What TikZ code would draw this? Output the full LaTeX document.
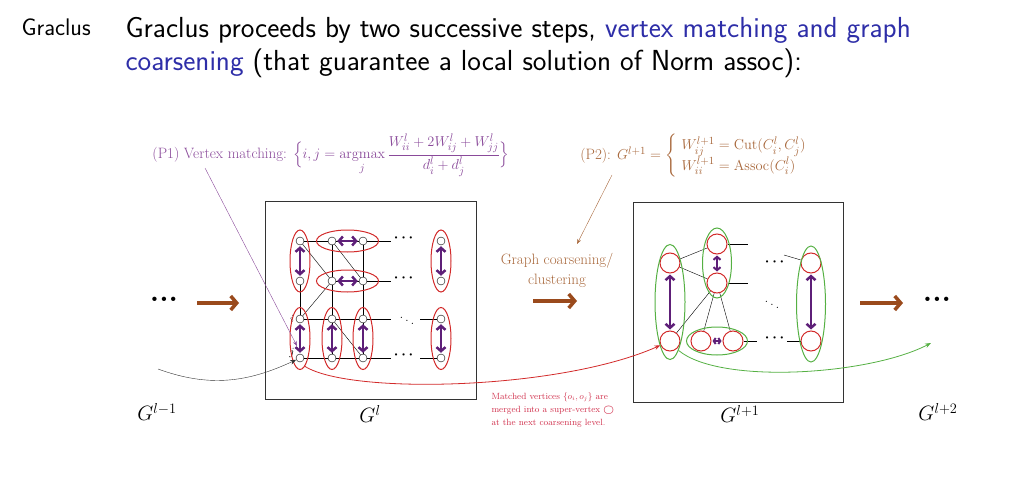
\documentclass[tikz,border=0pt]{standalone}
\usepackage{amsmath}
\usetikzlibrary{arrows.meta, shapes.geometric}
\definecolor{titleblue}{HTML}{2E2EA8}
\definecolor{matchpurple}{HTML}{5E1F78}
\definecolor{labelpurple}{HTML}{8A4A9A}
\definecolor{coarsebrown}{HTML}{9A4A1C}
\definecolor{labelbrown}{HTML}{A8683C}
\definecolor{grpred}{HTML}{D22A2A}
\definecolor{notered}{HTML}{D0304C}
\definecolor{grpgreen}{HTML}{55B043}

\begin{document}
\begin{tikzpicture}[x=1pt, y=1pt, font=\fontsize{15}{18}\selectfont, every node/.style={align=center},
  vtx/.style={circle, draw, inner sep=0pt, minimum size=8pt, fill=white},
  super/.style={circle, draw=grpred, line width=1pt, inner sep=0pt, minimum size=20pt, fill=white},
  grp/.style={ellipse, draw=grpred, line width=1pt, inner sep=0pt},
  ggrp/.style={ellipse, draw=grpgreen, line width=1pt, inner sep=0pt},
  match/.style={{Straight Barb[length=4pt, width=9pt]}-{Straight Barb[length=4pt, width=9pt]}, line width=2.5pt, matchpurple, shorten <=1pt, shorten >=1pt},
  flow/.style={-{Straight Barb[length=6pt, width=14pt]}, line width=3.5pt, coarsebrown},
  bigdots/.style={font=\fontsize{30}{30}\selectfont\bfseries},
  gdots/.style={font=\fontsize{15}{15}\selectfont\boldmath},
  glabel/.style={font=\fontsize{20}{22}\selectfont},
  headline/.style={anchor=base west, font=\sffamily\fontsize{29}{33}\selectfont}]
  \useasboundingbox (0,0) rectangle (1029,-487);

  % --- Title ---
  \node[anchor=base west, font=\sffamily\fontsize{24}{28}\selectfont] (tag) at (18,-36) {Graclus};
  \node[headline] (title1) at (122,-38)
    {Graclus proceeds by two successive steps, \textcolor{titleblue}{vertex matching and graph}};
  \node[headline] (title2) at (122,-71)
    {\textcolor{titleblue}{coarsening} (that guarantee a local solution of Norm assoc):};

  % --- Problem labels ---
  \node[labelpurple] (p1) at (331,-155)
    {(P1) Vertex matching: $\displaystyle\Big\{ i,j = \operatorname*{argmax}_j \frac{W^l_{ii}+2W^l_{ij}+W^l_{jj}}{d^l_i+d^l_j}\Big\}$};
  \node[labelbrown] (p2) at (696,-156)
    {(P2): $G^{l+1} = \left\{ \begin{array}{l} W^{l+1}_{ij} = \mathrm{Cut}(C^l_i,C^l_j)\\[1pt] W^{l+1}_{ii} = \mathrm{Assoc}(C^l_i)\end{array}\right.$};
  \coordinate (p1foot) at (205,-168);
  \coordinate (p1tip) at (297,-346);
  \coordinate (p2foot) at (612,-175);
  \coordinate (p2tip) at (577,-244);

  % --- Graph G^l ---
  \node[draw, black!80, minimum width=211pt, minimum height=198pt, inner sep=0pt] (box1) at (370.5,-300) {};
  \foreach \r/\y in {1/241,2/281,3/319,4/358}
    \foreach \c/\x in {1/300,2/332,3/363,4/441}
      \node[vtx] (a\r\c) at (\x,-\y) {};
  \node[gdots] (d1) at (405,-238) {$\cdots$};
  \node[gdots] (d2) at (405,-278) {$\cdots$};
  \node[gdots] (d3) at (407,-318) {$\ddots$};
  \node[gdots] (d4) at (405,-355) {$\cdots$};
  \coordinate (e1) at (391,-241);
  \coordinate (e2) at (391,-281);
  \coordinate (e3) at (391,-319);
  \coordinate (e3b) at (420,-319);
  \coordinate (e4) at (391,-358);
  \coordinate (e4b) at (420,-358);
  \node[font=\fontsize{11}{11}\selectfont\itshape] (li) at (292,-319) {$i$};
  \node[font=\fontsize{11}{11}\selectfont\itshape] (lj) at (292,-353) {$j$};

  \draw (a11) -- (a12) -- (a13) -- (e1);
  \draw (a22) -- (a23) -- (e2);
  \draw (a31) -- (a32) -- (a33) -- (e3);
  \draw (e3b) -- (a34);
  \draw (a41) -- (a42) -- (a43) -- (e4);
  \draw (e4b) -- (a44);
  \draw (a12) -- (a22) -- (a32) -- (a42);
  \draw (a13) -- (a23) -- (a33) -- (a43);
  \draw (a21) -- (a31);
  \draw (a11) -- (a22);
  \draw (a12) -- (a23);
  \draw (a31) -- (a22);
  \draw (a32) -- (a43);

  \node[grp, minimum width=20pt, minimum height=62pt] (g1) at (300,-261) {};
  \node[grp, minimum width=20pt, minimum height=62pt] (g2) at (300,-338.5) {};
  \node[grp, minimum width=20pt, minimum height=62pt] (g3) at (332,-338.5) {};
  \node[grp, minimum width=20pt, minimum height=62pt] (g4) at (363,-338.5) {};
  \node[grp, minimum width=20pt, minimum height=62pt] (g5) at (441,-261) {};
  \node[grp, minimum width=20pt, minimum height=62pt] (g6) at (441,-338.5) {};
  \node[grp, minimum width=62pt, minimum height=22pt] (g7) at (347.5,-241) {};
  \node[grp, minimum width=62pt, minimum height=22pt] (g8) at (347.5,-281) {};

  \draw[match] (a11) -- (a21);
  \draw[match] (a31) -- (a41);
  \draw[match] (a32) -- (a42);
  \draw[match] (a33) -- (a43);
  \draw[match] (a14) -- (a24);
  \draw[match] (a34) -- (a44);
  \draw[match] (a12) -- (a13);
  \draw[match] (a22) -- (a23);

  % --- Graph G^{l+1} ---
  \node[draw, black!80, minimum width=210pt, minimum height=200pt, inner sep=0pt] (box2) at (738,-302) {};
  \node[super] (sA) at (670,-263) {};
  \node[super] (sB) at (717,-244) {};
  \node[super] (sC) at (717,-283) {};
  \node[super] (sD) at (670,-341) {};
  \node[super] (sE) at (701,-341) {};
  \node[super] (sF) at (733,-341) {};
  \node[super] (sG) at (811,-263) {};
  \node[super] (sH) at (811,-341) {};
  \node[gdots] (s1) at (776,-262) {$\cdots$};
  \node[gdots] (s2) at (772,-302) {$\ddots$};
  \node[gdots] (s3) at (776,-338) {$\cdots$};
  \coordinate (t1) at (748,-244);
  \coordinate (t2) at (748,-283);
  \coordinate (t3) at (757,-341);
  \coordinate (t3b) at (787,-341);
  \coordinate (t4) at (784,-255);

  \draw (sA) -- (sB);
  \draw (sA) -- (sC);
  \draw (sB) -- (t1);
  \draw (sC) -- (t2);
  \draw (sC) -- (sD);
  \draw (sC) -- (sE);
  \draw (sC) -- (sF);
  \draw (sF) -- (t3);
  \draw (t3b) -- (sH);
  \draw (t4) -- (sG);

  \node[ggrp, minimum width=30pt, minimum height=115pt] (h1) at (670,-302) {};
  \node[ggrp, minimum width=29pt, minimum height=70pt] (h2) at (717,-263) {};
  \node[ggrp, minimum width=61pt, minimum height=28pt] (h3) at (717,-341) {};
  \node[ggrp, minimum width=29pt, minimum height=116pt] (h4) at (811,-304) {};

  \draw[match] (sA) -- (sD);
  \draw[match, {Straight Barb[length=3pt, width=7pt]}-{Straight Barb[length=3pt, width=7pt]}, line width=2pt] (sB) -- (sC);
  \draw[match, {Straight Barb[length=2pt, width=6pt]}-{Straight Barb[length=2pt, width=6pt]}, line width=2pt] (sE) -- (sF);
  \draw[match] (sG) -- (sH);

  % --- Coarsening flow ---
  \node[bigdots] (left) at (164,-299) {...};
  \node[bigdots] (right) at (937,-299) {...};
  \coordinate (fl0) at (197,-303);
  \coordinate (fl1) at (239,-303);
  \coordinate (fr0) at (860,-303);
  \coordinate (fr1) at (903,-303);
  \node[labelbrown, font=\fontsize{15}{20}\selectfont] (coarse) at (557,-270) {Graph coarsening/\\clustering};
  \coordinate (fm0) at (533,-301);
  \coordinate (fm1) at (577,-301);
  \draw[flow] (fl0) -- (fl1);
  \draw[flow] (fm0) -- (fm1);
  \draw[flow] (fr0) -- (fr1);

  \draw[labelpurple, -{Stealth[length=5pt]}] (p1foot) -- (p1tip);
  \draw[labelbrown, -{Stealth[length=5pt]}] (p2foot) -- (p2tip);

  % --- Level links ---
  \coordinate (prev) at (158,-369);
  \coordinate (next) at (931,-343);
  \draw[-{Stealth[length=6pt]}, black!80] (prev) to[out=-20, in=205] (a41);
  \draw[grpred, line width=0.8pt, -{Stealth[length=6pt]}] (g2.-80) .. controls (350,-395) and (560,-390) .. (sD);
  \draw[grpgreen, line width=0.8pt, -{Stealth[length=6pt]}] (h1.-80) .. controls (720,-385) and (870,-375) .. (next);

  \node[notered, align=left, anchor=north west, font=\fontsize{9}{13}\selectfont] (note) at (488,-389)
    {Matched vertices $\{o_i,o_j\}$ are\\ merged into a super-vertex {\boldmath$\bigcirc$}\\ at the next coarsening level.};

  % --- Level labels ---
  \node[glabel] (gm1) at (157,-412) {$G^{l-1}$};
  \node[glabel] (g0) at (370,-414) {$G^{l}$};
  \node[glabel] (gp1) at (740,-414) {$G^{l+1}$};
  \node[glabel] (gp2) at (938,-412) {$G^{l+2}$};
\end{tikzpicture}
\end{document}
